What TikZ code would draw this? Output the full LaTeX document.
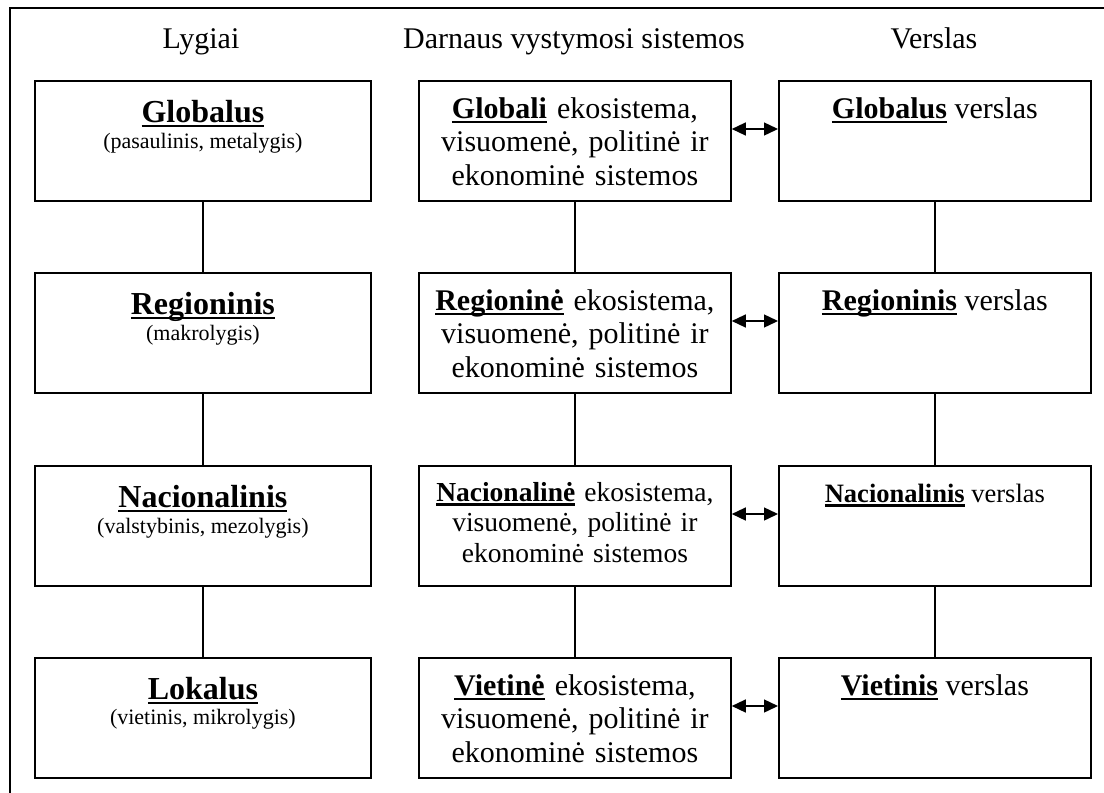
\documentclass[tikz,border=0pt]{standalone}
\usepackage{fontspec}
\setmainfont{Liberation Serif}
\usetikzlibrary{arrows.meta}

% bold keyword with a fixed-depth underline
\newcommand\ulword[1]{\setbox0\hbox{\textbf{#1}}\rlap{\rule[-0.17em]{\wd0}{0.085em}}\box0\relax}

\tikzset{
  frameline/.style={line width=1.6pt},
  levelbox/.style={draw, line width=1.8pt, minimum width=336pt, minimum height=120pt,
                   inner sep=0pt, anchor=north west},
  sysbox/.style={levelbox, minimum width=312pt},
  heading/.style={anchor=base, inner sep=0pt, font=\fontsize{30}{34}\selectfont},
  leveltitle/.style={anchor=base, inner sep=0pt, font=\fontsize{32}{36}\selectfont},
  levelnote/.style={anchor=base, inner sep=0pt, font=\fontsize{22}{25}\selectfont},
  systext/.style={anchor=base, inner sep=0pt, text width=306pt, align=center,
                  font=\fontsize{30}{33.5}\selectfont},
  systextsmall/.style={systext, font=\fontsize{27.5}{30.5}\selectfont},
  biztext/.style={anchor=base, inner sep=0pt, font=\fontsize{30}{34}\selectfont},
  biztextsmall/.style={biztext, font=\fontsize{26.5}{30}\selectfont},
  link/.style={line width=1.4pt},
  biarrow/.style={line width=1.4pt, {Triangle[length=14pt,width=13pt]}-{Triangle[length=14pt,width=13pt]}}
}

\begin{document}
\begin{tikzpicture}[x=1pt,y=-1pt]
  \path[use as bounding box] (0,0) rectangle (1104,793);

  % open frame: top and left edges only
  \draw[frameline] (1104,8) -- (10,8) -- (10,793);

  % column headings
  \node[heading] (hL) at (201,48) {Lygiai};
  \node[heading] (hM) at (574,48) {Darnaus vystymosi sistemos};
  \node[heading] (hR) at (934,48) {Verslas};

  % boxes: levels, sustainable development systems, business
  \node[levelbox] (L1) at (34,80)  {};
  \node[levelbox] (L2) at (34,272) {};
  \node[levelbox] (L3) at (34,465) {};
  \node[levelbox] (L4) at (34,657) {};

  \node[sysbox] (M1) at (418,80)  {};
  \node[sysbox] (M2) at (418,272) {};
  \node[sysbox] (M3) at (418,465) {};
  \node[sysbox] (M4) at (418,657) {};

  \node[sysbox] (R1) at (778,80)  {};
  \node[sysbox] (R2) at (778,272) {};
  \node[sysbox] (R3) at (778,465) {};
  \node[sysbox] (R4) at (778,657) {};

  % level texts
  \node[leveltitle] (t1) at ([yshift=-42pt]L1.north) {\ulword{Globalus}};
  \node[levelnote]  (n1) at ([yshift=-68pt]L1.north) {(pasaulinis, metalygis)};
  \node[leveltitle] (t2) at ([yshift=-42pt]L2.north) {\ulword{Regioninis}};
  \node[levelnote]  (n2) at ([yshift=-68pt]L2.north) {(makrolygis)};
  \node[leveltitle] (t3) at ([yshift=-42pt]L3.north) {\ulword{Nacionalinis}};
  \node[levelnote]  (n3) at ([yshift=-68pt]L3.north) {(valstybinis, mezolygis)};
  \node[leveltitle] (t4) at ([yshift=-42pt]L4.north) {\ulword{Lokalus}};
  \node[levelnote]  (n4) at ([yshift=-67pt]L4.north) {(vietinis, mikrolygis)};

  % system texts
  \node[systext] (s1) at ([yshift=-38pt]M1.north)
    {\ulword{Globali} ekosistema,\\ visuomenė, politinė ir\\ ekonominė sistemos};
  \node[systext] (s2) at ([yshift=-38pt]M2.north)
    {\ulword{Regioninė} ekosistema,\\ visuomenė, politinė ir\\ ekonominė sistemos};
  \node[systextsmall] (s3) at ([yshift=-36pt]M3.north)
    {\ulword{Nacionalinė} ekosistema,\\ visuomenė, politinė ir\\ ekonominė sistemos};
  \node[systext] (s4) at ([yshift=-38pt]M4.north)
    {\ulword{Vietinė} ekosistema,\\ visuomenė, politinė ir\\ ekonominė sistemos};

  % business texts
  \node[biztext]      (b1) at ([yshift=-38pt]R1.north) {\ulword{Globalus} verslas};
  \node[biztext]      (b2) at ([yshift=-38pt]R2.north) {\ulword{Regioninis} verslas};
  \node[biztextsmall] (b3) at ([yshift=-37pt]R3.north) {\ulword{Nacionalinis} verslas};
  \node[biztext]      (b4) at ([yshift=-38pt]R4.north) {\ulword{Vietinis} verslas};

  % vertical links
  \foreach \c in {L,M,R}{
    \draw[link] (\c1.south) -- (\c2.north);
    \draw[link] (\c2.south) -- (\c3.north);
    \draw[link] (\c3.south) -- (\c4.north);
  }

  % two-way arrows between systems and business
  \foreach \r in {1,2,3,4}{
    \draw[biarrow] ([yshift=-49pt]M\r.north east) -- ([yshift=-49pt]R\r.north west);
  }
\end{tikzpicture}
\end{document}
